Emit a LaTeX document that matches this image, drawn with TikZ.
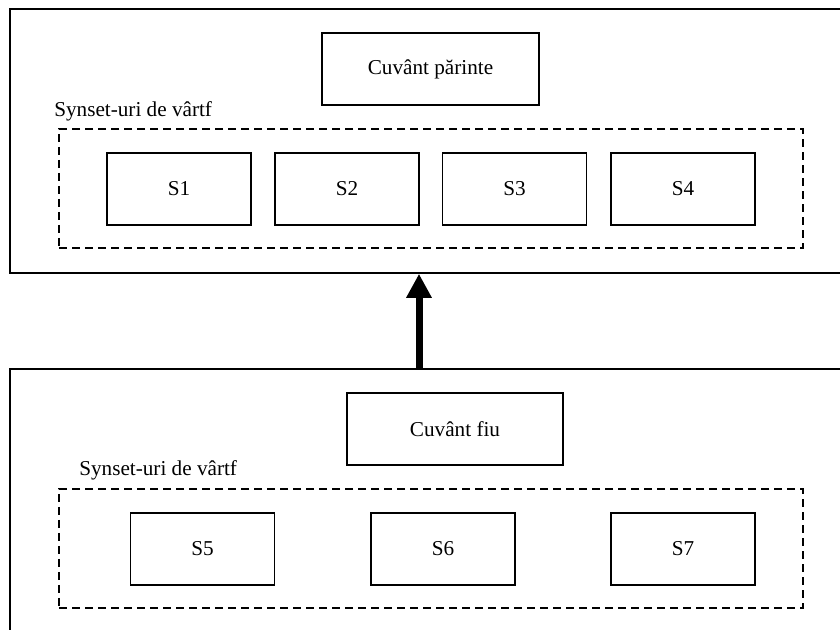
\documentclass[tikz,border=0pt]{standalone}
\usepackage{fontspec}
\setmainfont{Liberation Serif}
\usetikzlibrary{arrows.meta}
\begin{document}
\begin{tikzpicture}[x=0.75pt,y=-0.75pt,
  font=\fontsize{15.9}{19}\selectfont,
  outerbox/.style={draw, line width=1.2pt, inner sep=0pt},
  wordbox/.style={draw, line width=1pt, inner sep=0pt, minimum width=217*0.75pt, minimum height=72*0.75pt},
  synbox/.style={draw, line width=1pt, inner sep=0pt, minimum width=144*0.75pt, minimum height=72*0.75pt},
  grpbox/.style={draw, line width=1pt, dash pattern=on 6pt off 3.75pt, inner sep=0pt, minimum width=744*0.75pt, minimum height=119*0.75pt},
  grplabel/.style={anchor=base west, inner sep=0pt},
  bigarrow/.style={line width=5.25pt, -{Triangle[length=18pt, width=18pt]}}]
\useasboundingbox (0,0) rectangle (840,630);
\clip (0,0) rectangle (840,630);
% top group
\node[outerbox, minimum width=870*0.75pt, minimum height=264*0.75pt] (topbox) at (445,141) {};
\node[wordbox] (parent) at (430.5,69) {Cuvânt părinte};
\node[grplabel] (toplabel) at (54,116.7) {Synset-uri de vârtf};
\node[grpbox] (topgrp) at (431,188.5) {};
\node[synbox] (s1) at (179,189) {S1};
\node[synbox] (s2) at (347,189) {S2};
\node[synbox] (s3) at (514.5,189) {S3};
\node[synbox] (s4) at (683,189) {S4};
% bottom group
\node[outerbox, minimum width=870*0.75pt, minimum height=331*0.75pt] (botbox) at (445,534.5) {};
\node[wordbox, minimum width=216*0.75pt] (child) at (455,429) {Cuvânt fiu};
\node[grplabel] (botlabel) at (79,476) {Synset-uri de vârtf};
\node[grpbox] (botgrp) at (431,548.5) {};
\node[synbox] (s5) at (202.5,549) {S5};
\node[synbox] (s6) at (443,549) {S6};
\node[synbox] (s7) at (683,549) {S7};
% arrow
\coordinate (astart) at (419,369);
\draw[bigarrow] (astart) -- (astart |- topbox.south);
\end{tikzpicture}
\end{document}
